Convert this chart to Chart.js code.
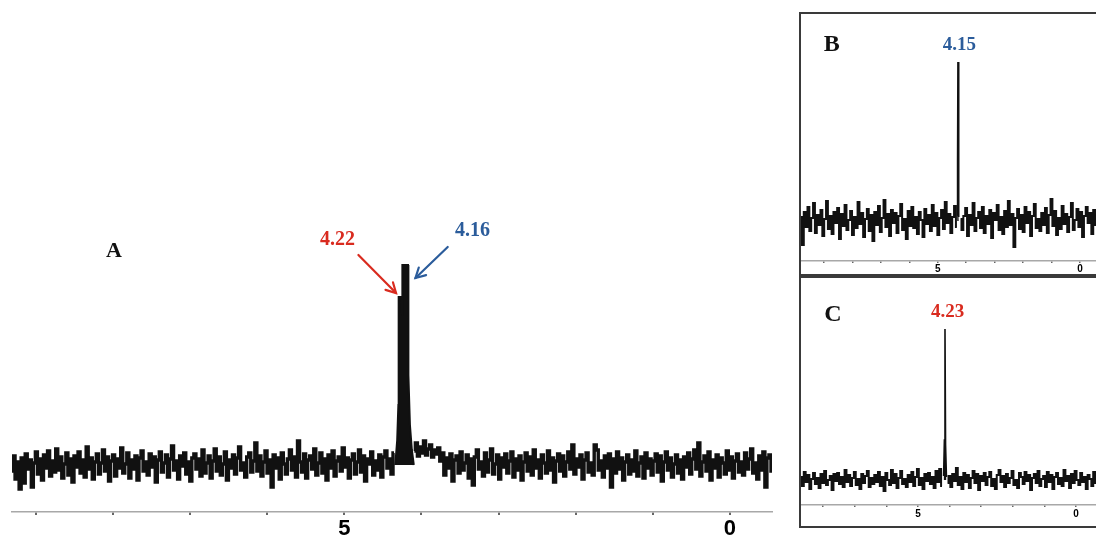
<!DOCTYPE html>
<html>
<head>
<meta charset="utf-8">
<script src="https://cdn.jsdelivr.net/npm/chart.js@4.4.1/dist/chart.umd.min.js"></script>
<style>
  html, body { margin: 0; padding: 0; background: #fff; overflow: hidden; }
  #wrap { position: relative; width: 1096px; height: 537px; overflow: hidden; }
  .box { position: absolute; border: 2px solid #3a3a3a; border-right: none; box-sizing: border-box; }
  canvas { position: absolute; }
</style>
</head>
<body>
<div id="wrap">
  <div class="box" style="left:799px; top:12px; width:320px; height:264px;"></div>
  <div class="box" style="left:799px; top:276px; width:320px; height:252px;"></div>
  <canvas id="chartA" width="780" height="537" style="left:0; top:0;"></canvas>
  <canvas id="chartB" width="295" height="260" style="left:801px; top:14px;"></canvas>
  <canvas id="chartC" width="295" height="241" style="left:801px; top:279px;"></canvas>
</div>
<script>
// ---------- Panel A : noise + doublet ----------
const ppmStartA = 9.31, ppmEndA = -0.545;
const noiseA = [
  -6, 9, -14, 3, -24, 7, -18, 11, -4, 5, -22, 2, 13, -9, 6,
  -15, 10, -3, 14, -11, 4, -7, 16, -5, 8, -13, 1, 12, -10, 6,
  -17, 9, -2, 13, -8, 5, -12, 18, -4, 7, -14, 3, 11, -9, 2,
  15, -6, 8, -16, 4, 10, -11, 6, -3, 17, -8, 1, 12, -13, 5,
  -4, 9, -15, 7, 14, -6, 3, -10, 11, -2, 8, -17, 5, 13, -7,
  2, 10, -12, 6, 19, -5, 4, -14, 9, -1, 12, -9, 3, -16, 7,
  11, -4, 6, -11, 15, -8, 2, 9, -13, 4, 16, -6, 8, -10, 1,
  13, -15, 5, -3, 10, -9, 7, 18, -5, 2, -12, 8, 12, -7, 4,
  22, -6, 9, -11, 3, 14, -8, 5, -22, 10, -3, 7, -14, 12, 1,
  -9, 6, 15, -5, 8, -12, 24, 3, -7, 11, -13, 5, 9, -4, 16,
  -10, 2, 12, -8, 6, -15, 10, -3, 14, -11, 4, 8, -6, 17, -2,
  7, -13, 5, 11, -9, 3, 15, -7, 9, -16, 6, 1, 13, -10, 4,
  -5, 10, -12, 8, 14, -3, 6, -9, 12, 0, 0, 0, 0, 0, 0,
  0, 0, 0, 14, 22, 9, 18, 12, 24, 10, 16, 20, 8, 15, 11,
  17, 4, 12, -10, 7, -3, 11, -16, 5, 9, -8, 13, -5, 2, 10,
  -13, 6, -20, 8, 15, -4, 3, -11, 12, -7, 5, 16, -9, 1, 10,
  -14, 7, -2, 11, -8, 4, 13, -12, 6, -5, 9, -15, 3, 12, -6,
  8, -10, 15, -3, 5, -13, 10, 2, -8, 14, -5, 7, -17, 4, 11,
  -6, 9, -11, 3, 13, -4, 20, -9, 6, -2, 10, -14, 5, 12, -7,
  2, -10, 20, 15, -5, 4, -12, 9, -3, 11, -22, 6, -8, 13, -4,
  7, -15, 3, 10, -9, 5, -6, 14, -11, 2, 8, -13, 12, -3, 6,
  -10, 4, 11, -7, 9, -16, 3, 13, -5, 7, -12, 1, 10, -8, 5,
  -14, 8, -2, 12, -9, 6, 15, -4, 22, -11, 3, 9, -6, 13, -15,
  5, -3, 10, -12, 7, 2, -9, 14, -5, 8, -13, 4, 11, -7, 3,
  -10, 12, -4, 6, 16, -8, 2, -14, 9, -5, 13, -22, 7, 10, -6
];
const peakPpmA = [4.34, 4.315, 4.30, 4.296, 4.262, 4.252, 4.248, 4.175, 4.170, 4.15, 4.125, 4.10];
const peakIntA = [0, 25, 60, 168, 168, 150, 200, 200, 90, 40, 15, 0];
const ticksA = [9, 8, 7, 6, 5, 4, 3, 2, 1, 0];
const tickLabelsA = [5, 0];

// ---------- Panel B : single peak ----------
const ppmStartB = 9.807, ppmEndB = -0.561;
const noiseB = [
  4, -24, 9, -6, 14, -10, 3, 18, -12, 6,
  -4, 11, -15, 2, 20, -8, 5, -13, 9, -2,
  13, -18, 7, -5, 16, -9, 1, 10, -14, 4,
  -7, 19, -3, 8, -16, 2, 12, -10, 6, -20,
  9, -4, 15, -11, 3, 21, -6, 7, -15, 11,
  -2, 8, -12, 5, 17, -9, 2, -18, 10, -5,
  14, -7, 4, -13, 9, 1, -16, 12, -3, 6,
  -10, 16, -5, 8, -14, 3, 11, -8, 19, -2,
  7, -12, 4, 15, -6, 10, 2, -9, 5, 13,
  -15, 6, -4, 18, -10, 3, 9, -7, 14, -12,
  5, -3, 11, -17, 8, 1, 16, -9, 4, -13,
  10, -6, 20, -4, 7, -26, 3, 12, -8, 6,
  -11, 14, -2, 9, -15, 5, 17, -7, 2, -10,
  8, -4, 13, -12, 6, 22, -5, 10, -14, 3,
  -8, 15, -3, 7, -11, 4, 18, -9, 1, 12,
  -6, 9, -16, 5, 14, -2, 8, -13, 11, -4
];
const peakPpmB = [4.32, 4.30, 4.288, 4.276, 4.26];
const peakIntB = [6, 60, 159, 50, 4];
const ticksB = [9, 8, 7, 6, 5, 4, 3, 2, 1, 0];
const tickLabelsB = [5, 0];

// ---------- Panel C : single peak ----------
const ppmStartC = 8.703, ppmEndC = -0.633;
const noiseC = [
  3, -6, 8, -2, 5, -9, 1, 7, -4, 2,
  -8, 6, -3, 9, -5, 0, 4, -10, 6, -1,
  7, -4, 3, -7, 10, -2, 5, -6, 2, 8,
  -5, 1, -9, 6, -3, 4, 9, -7, 2, -4,
  5, -2, 8, -6, 3, -11, 7, 0, -5, 10,
  -3, 6, -8, 2, 9, -4, 1, -7, 5, -2,
  8, -6, 3, 11, -5, 2, -9, 6, -1, 7,
  -4, 3, -8, 9, -2, 11, -6, 1, 10, -3,
  4, -7, 6, -1, 12, -5, 3, -9, 7, -2,
  5, -8, 2, 9, -3, 6, -10, 4, -1, 7,
  -5, 3, 8, -6, 1, -9, 5, 10, -2, 4,
  -7, 6, -3, 2, 9, -5, 0, -8, 7, 3,
  -4, 8, -1, 5, -10, 2, 6, -3, 9, -6,
  1, 4, -7, 8, -2, 5, -9, 3, 7, -4,
  2, -6, 10, -1, 4, -8, 6, -3, 9, 0,
  -5, 7, -2, 3, -9, 5, 1, -6, 8, -3
];
const peakPpmC = [4.19, 4.165, 4.146, 4.128, 4.10];
const peakIntC = [4, 40, 151, 35, 3];
const ticksC = [8, 7, 6, 5, 4, 3, 2, 1, 0];
const tickLabelsC = [5, 0];

// ---------- helpers ----------
function noiseSeries(noise, start, end, peakPpm) {
  const step = (end - start) / (noise.length - 1);
  const lo = Math.min(...peakPpm), hi = Math.max(...peakPpm);
  return noise.map((v, i) => ({ x: start + i * step, y: v }))
              .filter(p => p.x < lo || p.x > hi);
}
function splitAt(pts, ppm) {
  return [pts.filter(p => p.x > ppm), pts.filter(p => p.x < ppm)];
}
function peakSeries(peakPpm, peakInt) {
  return peakPpm.map((p, i) => ({ x: p, y: peakInt[i] }));
}

const notesPlugin = {
  id: 'notes',
  afterDatasetsDraw(chart, args, opts) {
    const ctx = chart.ctx, xs = chart.scales.x, ys = chart.scales.y;
    (opts.items || []).forEach(it => {
      ctx.save();
      if (it.type === 'text') {
        ctx.font = it.font;
        ctx.fillStyle = it.color;
        ctx.textAlign = 'center';
        ctx.textBaseline = 'middle';
        ctx.fillText(it.text, xs.getPixelForValue(it.x), ys.getPixelForValue(it.y));
      } else if (it.type === 'arrow') {
        const x1 = xs.getPixelForValue(it.x1), y1 = ys.getPixelForValue(it.y1);
        const x2 = xs.getPixelForValue(it.x2), y2 = ys.getPixelForValue(it.y2);
        ctx.strokeStyle = it.color; ctx.lineWidth = 2.2; ctx.lineCap = 'round';
        ctx.beginPath(); ctx.moveTo(x1, y1); ctx.lineTo(x2, y2); ctx.stroke();
        const a = Math.atan2(y2 - y1, x2 - x1), L = 11, w = 0.5;
        ctx.beginPath();
        ctx.moveTo(x2 - L * Math.cos(a - w), y2 - L * Math.sin(a - w));
        ctx.lineTo(x2, y2);
        ctx.lineTo(x2 - L * Math.cos(a + w), y2 - L * Math.sin(a + w));
        ctx.stroke();
      }
      ctx.restore();
    });
  }
};

function makeChart(id, cfg) {
  const [left, right] = splitAt(noiseSeries(cfg.noise, cfg.xmax, cfg.xmin, cfg.peakPpm), cfg.peakPpm[0]);
  const peak = peakSeries(cfg.peakPpm, cfg.peakInt);
  const lineDs = d => ({ data: d, borderColor: '#111', borderWidth: cfg.lw, pointRadius: 0,
                         tension: 0, stepped: cfg.stepped, borderJoinStyle: cfg.join, fill: false });
  return new Chart(document.getElementById(id), {
    type: 'line',
    data: { datasets: [
      lineDs(left), lineDs(right),
      { data: peak, borderColor: '#111', backgroundColor: '#111', borderWidth: cfg.plw,
        pointRadius: 0, tension: 0, fill: 'origin' }
    ]},
    options: {
      responsive: false, animation: false, devicePixelRatio: 1,
      layout: { padding: cfg.padding },
      plugins: { legend: { display: false }, tooltip: { enabled: false },
                 notes: { items: cfg.notes } },
      scales: {
        x: {
          type: 'linear', reverse: true, min: cfg.xmin, max: cfg.xmax,
          afterBuildTicks: s => { s.ticks = cfg.ticks.map(v => ({ value: v })); },
          afterFit: s => { s.height = cfg.axisH; },
          border: { color: '#a8a8a8', width: cfg.axisW },
          grid: { drawOnChartArea: false, drawTicks: true, tickLength: cfg.tickLen, color: '#666', lineWidth: cfg.tickW },
          ticks: {
            autoSkip: false, maxRotation: 0, padding: cfg.tickPad, color: '#000',
            font: { family: 'Liberation Sans, Arial, sans-serif', weight: 'bold', size: cfg.fontSize },
            callback: v => cfg.labels.includes(v) ? String(v) : ''
          }
        },
        y: { display: false, min: cfg.ymin, max: cfg.ymax }
      }
    },
    plugins: [notesPlugin]
  });
}

const serif = 'Liberation Serif, Times New Roman, serif';
const RED = '#d92b1f', BLUE = '#2b5c9b';

makeChart('chartA', {
  noise: noiseA, peakPpm: peakPpmA, peakInt: peakIntA,
  lw: 3.4, plw: 2, stepped: 'middle', join: 'miter', padding: { left: 12, right: 8, top: 0, bottom: 0 },
  xmin: ppmEndA, xmax: ppmStartA, ymin: -47, ymax: 465,
  ticks: ticksA, labels: tickLabelsA, axisH: 25, axisW: 1.5, tickLen: 3, tickW: 2, tickPad: 1, fontSize: 22,
  notes: [
    { type: 'text', x: 7.987, y: 214, text: 'A', color: '#111', font: 'bold 22px ' + serif },
    { type: 'text', x: 5.09, y: 225, text: '4.22', color: RED, font: 'bold 20px ' + serif },
    { type: 'text', x: 3.34, y: 234, text: '4.16', color: BLUE, font: 'bold 20px ' + serif },
    { type: 'arrow', x1: 4.818, y1: 210, x2: 4.33, y2: 172, color: RED },
    { type: 'arrow', x1: 3.66, y1: 218, x2: 4.078, y2: 187, color: BLUE }
  ]
});

makeChart('chartB', {
  noise: noiseB, peakPpm: peakPpmB, peakInt: peakIntB,
  lw: 2, plw: 1.8, stepped: 'middle', join: 'miter', padding: { left: 0, right: 0, top: 0, bottom: 0 },
  xmin: ppmEndB, xmax: ppmStartB, ymin: -40, ymax: 207,
  ticks: ticksB, labels: tickLabelsB, axisH: 13, axisW: 1.5, tickLen: 2, tickW: 1.5, tickPad: 0, fontSize: 10,
  notes: [
    { type: 'text', x: 8.726, y: 176, text: 'B', color: '#111', font: 'bold 24px ' + serif },
    { type: 'text', x: 4.24, y: 176, text: '4.15', color: BLUE, font: 'bold 19px ' + serif }
  ]
});

makeChart('chartC', {
  noise: noiseC, peakPpm: peakPpmC, peakInt: peakIntC,
  lw: 2, plw: 1.6, stepped: 'middle', join: 'miter', padding: { left: 0, right: 0, top: 0, bottom: 0 },
  xmin: ppmEndC, xmax: ppmStartC, ymin: -25, ymax: 201,
  ticks: ticksC, labels: tickLabelsC, axisH: 15, axisW: 1.5, tickLen: 2, tickW: 1.5, tickPad: 1, fontSize: 10,
  notes: [
    { type: 'text', x: 7.69, y: 165, text: 'C', color: '#111', font: 'bold 24px ' + serif },
    { type: 'text', x: 4.06, y: 168, text: '4.23', color: RED, font: 'bold 19px ' + serif }
  ]
});
</script>
</body>
</html>
